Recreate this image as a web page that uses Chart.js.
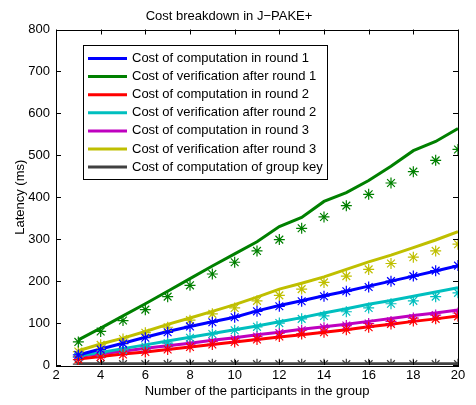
<!DOCTYPE html>
<html>
<head>
<meta charset="utf-8">
<script src="https://cdn.jsdelivr.net/npm/chart.js@4.4.1/dist/chart.umd.min.js"></script>
<style>
  html, body { margin: 0; padding: 0; background: #fff; }
  #wrap { width: 476px; height: 405px; }
</style>
</head>
<body>
<div id="wrap"><canvas id="chart" width="476" height="405"></canvas></div>
<script>
// group sizes on the x axis
const participants = [3, 4, 5, 6, 7, 8, 9, 10, 11, 12, 13, 14, 15, 16, 17, 18, 19, 20];

// solid lines
const compRound1 = [24, 38, 52, 66, 80, 92, 103, 114, 129, 142, 153, 165, 176, 188, 200, 212, 224, 237];
const verifRound1 = [60, 88, 117, 146, 176, 206, 236, 265, 294, 330, 352, 390, 411, 440, 474, 511, 533, 564];
const compRound2 = [14, 20, 26, 31, 37, 43, 49, 55, 61, 67, 72, 78, 84, 91, 97, 104, 110, 117];
const verifRound2 = [22, 30, 39, 48, 57, 66, 75, 84, 93, 103, 113, 124, 134, 145, 154, 164, 174, 184];
const compRound3 = [20, 27, 33, 40, 46, 52, 59, 65, 72, 78, 85, 91, 97, 104, 111, 118, 124, 131];
const verifRound3 = [34, 50, 64, 80, 97, 112, 128, 144, 162, 181, 195, 210, 228, 246, 262, 280, 298, 318];
const compGroupKey = [3, 3, 3, 3, 3, 3, 3, 3, 3, 3, 3, 3, 3, 3, 3, 3, 3, 3];

// asterisk markers
const compRound1Marks = [24, 37, 51, 65, 78, 92, 102, 114, 128, 140, 152, 164, 176, 186, 200, 212, 225, 237];
const verifRound1Marks = [55, 80, 106, 132, 163, 190, 217, 245, 272, 299, 326, 353, 380, 407, 434, 461, 488, 514];
const compRound2Marks = [13, 19, 25, 31, 37, 43, 49, 55, 61, 68, 74, 78, 84, 90, 98, 105, 110, 116];
const verifRound2Marks = [20, 28, 36, 44, 52, 65, 74, 83, 91, 100, 110, 117, 127, 136, 146, 153, 163, 172];
const compRound3Marks = [19, 25, 32, 38, 44, 50, 56, 62, 68, 76, 83, 89, 94, 99, 104, 112, 119, 124];
const verifRound3Marks = [32, 48, 62, 77, 90, 107, 122, 136, 153, 166, 181, 197, 212, 228, 242, 257, 272, 288];
const compGroupKeyMarks = [2, 2, 2, 2, 2, 2, 2, 2, 2, 2, 2, 2, 2, 2, 2, 2, 2, 2];

const seriesNames = [
    'Cost of computation in round 1',
    'Cost of verification after round 1',
    'Cost of computation in round 2',
    'Cost of verification after round 2',
    'Cost of computation in round 3',
    'Cost of verification after round 3',
    'Cost of computation of group key'
];
const lineValues = [compRound1, verifRound1, compRound2, verifRound2, compRound3, verifRound3, compGroupKey];
const markValues = [compRound1Marks, verifRound1Marks, compRound2Marks, verifRound2Marks, compRound3Marks, verifRound3Marks, compGroupKeyMarks];
const seriesColors = ['#0000ff', '#008000', '#ff0000', '#00bfbf', '#bf00bf', '#bfbf00', '#404040'];

const FONT = 'Liberation Sans, Arial, Helvetica, sans-serif';

const toPoints = (vals) => participants.map((n, i) => ({ x: n, y: vals[i] }));

const datasets = [];
lineValues.forEach((vals, i) => {
    datasets.push({
        label: seriesNames[i],
        data: toPoints(vals),
        borderColor: seriesColors[i],
        backgroundColor: seriesColors[i],
        borderWidth: 3,
        pointRadius: 0,
        showLine: true,
        tension: 0,
        order: 2
    });
});
markValues.forEach((vals, i) => {
    datasets.push({
        label: seriesNames[i] + ' (measured)',
        data: toPoints(vals),
        borderColor: seriesColors[i],
        backgroundColor: seriesColors[i],
        showLine: false,
        pointStyle: 'star',
        pointRadius: 5.5,
        pointBorderWidth: 1.2,
        order: 1,
        isMarks: true
    });
});

// matlab style box with inward ticks on every side
const boxPlugin = {
    id: 'boxPlugin',
    afterDatasetsDraw(chart) {
        const { ctx, chartArea: a, scales } = chart;
        ctx.save();
        ctx.strokeStyle = '#000';
        ctx.lineWidth = 1;
        ctx.beginPath();
        const tl = 5;
        scales.x.ticks.forEach(t => {
            const px = Math.round(scales.x.getPixelForValue(t.value)) + 0.5;
            ctx.moveTo(px, a.bottom); ctx.lineTo(px, a.bottom - tl);
            ctx.moveTo(px, a.top); ctx.lineTo(px, a.top + tl);
        });
        scales.y.ticks.forEach(t => {
            const py = Math.round(scales.y.getPixelForValue(t.value)) + 0.5;
            ctx.moveTo(a.left, py); ctx.lineTo(a.left + tl, py);
            ctx.moveTo(a.right, py); ctx.lineTo(a.right - tl, py);
        });
        ctx.stroke();
        ctx.strokeRect(Math.round(a.left) + 0.5, Math.round(a.top) + 0.5,
            Math.round(a.right - a.left), Math.round(a.bottom - a.top));
        ctx.restore();
    }
};

// legend box in the upper left of the axes
const legendPlugin = {
    id: 'legendPlugin',
    afterDraw(chart) {
        const { ctx } = chart;
        const items = chart.data.datasets.filter(d => !d.isMarks);
        const x0 = 83.5, y0 = 45.5, w = 244, h = 134;
        ctx.save();
        ctx.fillStyle = '#fff';
        ctx.fillRect(x0, y0, w, h);
        ctx.strokeStyle = '#000';
        ctx.lineWidth = 1;
        ctx.strokeRect(x0, y0, w, h);
        ctx.font = '13px ' + FONT;
        ctx.textBaseline = 'middle';
        items.forEach((d, i) => {
            const y = 58.5 + i * 18.1;
            ctx.strokeStyle = d.borderColor;
            ctx.lineWidth = 3;
            ctx.beginPath();
            ctx.moveTo(88, y);
            ctx.lineTo(127, y);
            ctx.stroke();
            ctx.fillStyle = '#000';
            ctx.fillText(d.label, 132, y);
        });
        ctx.restore();
    }
};

new Chart(document.getElementById('chart'), {
    type: 'scatter',
    data: { datasets },
    plugins: [boxPlugin, legendPlugin],
    options: {
        responsive: false,
        animation: false,
        layout: { padding: { left: 0, right: 18, top: 0, bottom: 0 } },
        plugins: {
            legend: { display: false },
            tooltip: { enabled: false },
            title: {
                display: true,
                text: 'Cost breakdown in J\u2212PAKE+',
                color: '#000',
                font: { family: FONT, size: 13, weight: 'normal' },
                padding: { top: 8.2, bottom: 5.7 }
            }
        },
        scales: {
            x: {
                type: 'linear',
                min: 2,
                max: 20,
                afterFit: (s) => { s.height = 40; },
                ticks: { stepSize: 2, color: '#000', padding: 3, font: { family: FONT, size: 13 } },
                grid: { display: false, drawTicks: false },
                border: { display: false },
                title: {
                    display: true,
                    text: 'Number of the participants in the group',
                    color: '#000',
                    font: { family: FONT, size: 13 },
                    padding: { top: 0, bottom: 5.5 }
                }
            },
            y: {
                min: 0,
                max: 800,
                afterFit: (s) => { s.width = 56; },
                ticks: { stepSize: 100, color: '#000', padding: 6, font: { family: FONT, size: 13 } },
                grid: { display: false, drawTicks: false },
                border: { display: false },
                title: {
                    display: true,
                    text: 'Latency (ms)',
                    color: '#000',
                    font: { family: FONT, size: 13 },
                    padding: { top: 12.2, bottom: 0 }
                }
            }
        }
    }
});
</script>
</body>
</html>
